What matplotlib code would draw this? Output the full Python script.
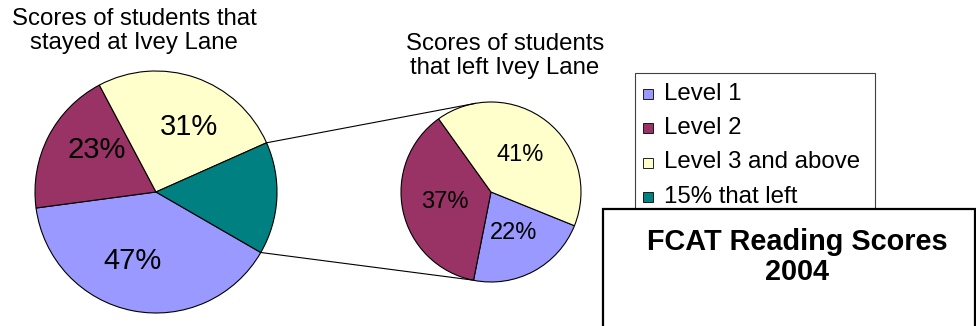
import matplotlib
matplotlib.use("Agg")
import matplotlib.pyplot as plt
from matplotlib.patches import Rectangle
import numpy as np

plt.rcParams["font.family"] = ["Liberation Sans", "DejaVu Sans"]

# FCAT reading scores, Ivey Lane, 2004
levels = ["Level 1", "Level 2", "Level 3 and above"]
stayed_pct = [47, 23, 31]      # share of students that stayed
left_pct = [22, 37, 41]        # share of students that left
left_share = 15                # percent of all students that left
left_label = "15% that left"

level_colors = ["#9999FF", "#993366", "#FFFFCC"]
left_color = "#008080"

W, H = 976, 326
fig = plt.figure(figsize=(W / 100, H / 100), dpi=100)
ax = fig.add_axes([0, 0, 1, 1])

main_c, main_r = (156, H - 192), 121
sub_c, sub_r = (491, H - 192), 90
edge = dict(edgecolor="black", linewidth=0.8)

# main pie: stayed levels scaled to the remaining 85%, plus the slice that left
stayed_share = 100 - left_share
main_vals = [stayed_share * p / sum(stayed_pct) for p in stayed_pct] + [left_share]
main_wedges, _ = ax.pie(main_vals, colors=level_colors + [left_color],
                        startangle=-30, counterclock=False,
                        center=main_c, radius=main_r, wedgeprops=edge)

sub_wedges, _ = ax.pie(left_pct, colors=level_colors,
                       startangle=-22, counterclock=False,
                       center=sub_c, radius=sub_r, wedgeprops=edge)


def polar(c, r, deg):
    a = np.radians(deg)
    return c[0] + r * np.cos(a), c[1] + r * np.sin(a)


def label_wedges(wedges, texts, c, r, frac, size, shift=0):
    for w, t in zip(wedges, texts):
        mid = (w.theta1 + w.theta2) / 2 + shift
        x, y = polar(c, r * frac, mid)
        ax.text(x, y, t, ha="center", va="center", fontsize=size)


label_wedges(main_wedges[:3], [f"{p}%" for p in stayed_pct], main_c, main_r, 0.6, 21, shift=-8)
label_wedges(sub_wedges, [f"{p}%" for p in left_pct], sub_c, sub_r, 0.52, 17)

# connector lines from the "left" slice to the second pie
tw = main_wedges[3]
for a_main, a_sub in [(tw.theta2, 100), (tw.theta1, -102)]:
    x0, y0 = polar(main_c, main_r, a_main)
    x1, y1 = polar(sub_c, sub_r, a_sub)
    ax.plot([x0, x1], [y0, y1], color="black", linewidth=0.8)

# pie titles
ax.text(134, H - 31, "Scores of students that\nstayed at Ivey Lane",
        ha="center", va="center", fontsize=17.3, linespacing=1.15)
ax.text(505, H - 56, "Scores of students\nthat left Ivey Lane",
        ha="center", va="center", fontsize=17.3, linespacing=1.15)

# legend
ax.add_patch(Rectangle((635, H - 230), 240, 230 - 73, facecolor="white",
                       edgecolor="#404040", linewidth=0.8, zorder=3))
entries = list(zip(levels, level_colors)) + [(left_label, left_color)]
for i, (name, col) in enumerate(entries):
    yc = H - (93.5 + i * 34.5)
    ax.add_patch(Rectangle((643, yc - 5), 10, 10, facecolor=col,
                           edgecolor="black", linewidth=0.6, zorder=4))
    ax.text(664, yc, name, ha="left", va="center", fontsize=17.3, zorder=4)

# chart title box
ax.add_patch(Rectangle((603, -20), 372, H - 209 + 20, facecolor="white",
                       edgecolor="black", linewidth=1.6, zorder=5))
ax.text(797, H - 257, "FCAT Reading Scores\n2004", ha="center", va="center",
        fontsize=20.8, fontweight="bold", linespacing=1.1, zorder=6)

ax.set_xlim(0, W)
ax.set_ylim(0, H)
ax.axis("off")

fig.savefig("out.png", dpi=100)
